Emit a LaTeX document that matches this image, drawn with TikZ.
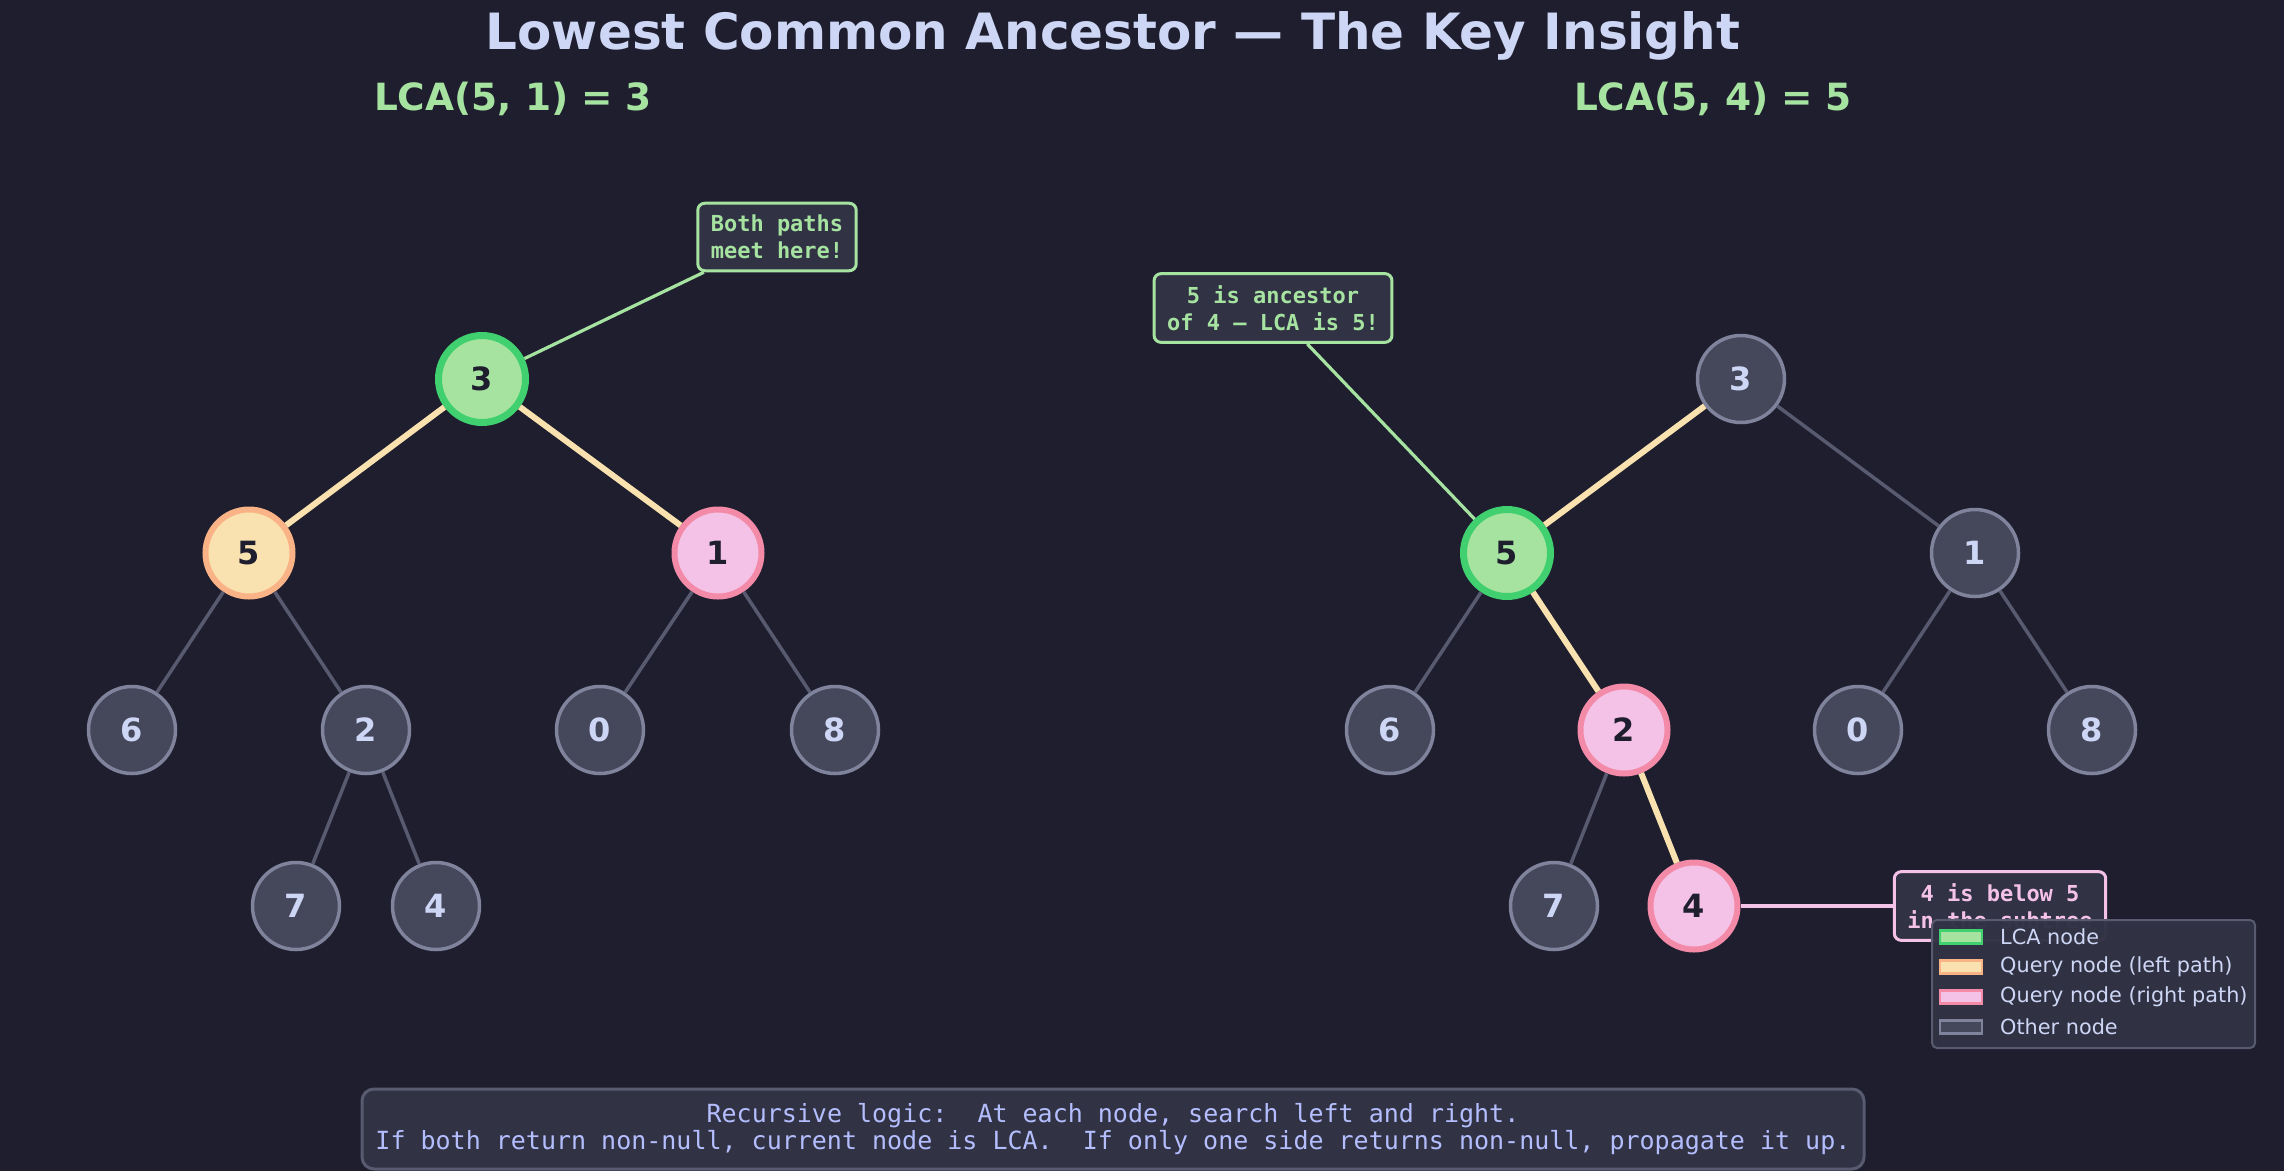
\documentclass[tikz,border=0pt]{standalone}
\usepackage{fontspec}
\setmainfont{DejaVu Sans}
\setmonofont{DejaVu Sans Mono}
\usepackage{tikz}
\usetikzlibrary{positioning}
\definecolor{bgdark}{HTML}{1E1E2E}
\definecolor{inktext}{HTML}{CDD6F4}
\definecolor{logicink}{HTML}{B4BEFE}
\definecolor{lcafill}{HTML}{A6E3A1}
\definecolor{lcaring}{HTML}{40D070}
\definecolor{qlfill}{HTML}{F9E2AF}
\definecolor{qlring}{HTML}{FAB387}
\definecolor{qrfill}{HTML}{F5C2E7}
\definecolor{qrring}{HTML}{F38BA8}
\definecolor{othfill}{HTML}{45475A}
\definecolor{othring}{HTML}{7F849C}
\definecolor{edgegray}{HTML}{585B70}
\definecolor{panelbg}{HTML}{313244}
\definecolor{panelbd}{HTML}{585B70}
\tikzset{
  tnode/.style={circle, minimum size=87pt, inner sep=0pt, font=\fontsize{32}{38}\selectfont\bfseries},
  lcanode/.style={tnode, draw=lcaring, fill=lcafill, line width=7pt, text=bgdark},
  qlnode/.style={tnode, draw=qlring, fill=qlfill, line width=6pt, text=bgdark},
  qrnode/.style={tnode, draw=qrring, fill=qrfill, line width=6pt, text=bgdark},
  onode/.style={tnode, draw=othring, fill=othfill, line width=3.5pt, text=inktext},
  tedge/.style={draw=edgegray, line width=3.5pt},
  pedge/.style={draw=qlfill, line width=6pt},
  note/.style={rounded corners=7pt, fill=panelbg, line width=3pt, align=center,
    inner xsep=13pt, inner ysep=12pt, font=\ttfamily\bfseries\fontsize{22}{26.5}\selectfont},
  notegreen/.style={note, draw=lcafill, text=lcafill},
  notepink/.style={note, draw=qrfill, text=qrfill},
  noteline/.style={line width=3.2pt},
  legbox/.style={draw=panelbd, fill=panelbg, fill opacity=0.97, rounded corners=5pt, line width=2pt,
    minimum width=323pt, minimum height=128pt, inner sep=0pt},
  swatch/.style={minimum width=42pt, minimum height=13pt, inner sep=0pt, line width=2.5pt},
  legtext/.style={anchor=west, inner sep=0pt, text=inktext, font=\fontsize{20.8}{25}\selectfont},
  logicbox/.style={draw=panelbd, fill=panelbg, rounded corners=12pt, line width=3pt,
    minimum width=1502pt, minimum height=80pt, align=center, text=logicink,
    font=\ttfamily\fontsize{25}{27.5}\selectfont}
}
\begin{document}
\begin{tikzpicture}[x=1pt, y=-1pt]
\fill[bgdark] (0,0) rectangle (2284,1171);
\useasboundingbox (0,0) rectangle (2284,1171);
% headings
\node[text=inktext, font=\fontsize{50}{60}\selectfont\bfseries] (title) at (1113,36) {Lowest Common Ancestor — The Key Insight};
\node[text=lcafill, font=\fontsize{37.5}{44}\selectfont\bfseries] (subl) at (513,99) {LCA(5, 1) = 3};
\node[text=lcafill, font=\fontsize{37.5}{44}\selectfont\bfseries] (subr) at (1713,99) {LCA(5, 4) = 5};
% left tree
\node[lcanode] (l3) at (482,379) {3};
\node[qlnode] (l5) at (249,553) {5};
\node[qrnode] (l1) at (718,553) {1};
\node[onode] (l6) at (132,730) {6};
\node[onode] (l2) at (366,730) {2};
\node[onode] (l0) at (600,730) {0};
\node[onode] (l8) at (835,730) {8};
\node[onode] (l7) at (296,906) {7};
\node[onode] (l4) at (436,906) {4};
\draw[pedge] (l3)--(l5); \draw[pedge] (l3)--(l1);
\draw[tedge] (l5)--(l6); \draw[tedge] (l5)--(l2); \draw[tedge] (l1)--(l0); \draw[tedge] (l1)--(l8);
\draw[tedge] (l2)--(l7); \draw[tedge] (l2)--(l4);
\node[notegreen] (meet) at (777,237) {Both paths\\meet here!};
\draw[noteline, lcafill] (l3)--(meet);
% right tree
\node[onode] (r3) at (1741,379) {3};
\node[lcanode] (r5) at (1507,553) {5};
\node[onode] (r1) at (1975,553) {1};
\node[onode] (r6) at (1390,730) {6};
\node[qrnode] (r2) at (1624,730) {2};
\node[onode] (r0) at (1858,730) {0};
\node[onode] (r8) at (2092,730) {8};
\node[onode] (r7) at (1554,906) {7};
\node[qrnode] (r4) at (1694,906) {4};
\draw[pedge] (r3)--(r5); \draw[pedge] (r5)--(r2); \draw[pedge] (r2)--(r4);
\draw[tedge] (r3)--(r1); \draw[tedge] (r5)--(r6); \draw[tedge] (r1)--(r0); \draw[tedge] (r1)--(r8);
\draw[tedge] (r2)--(r7);
\node[notegreen] (anc) at (1273,308) {5 is ancestor\\of 4 — LCA is 5!};
\draw[noteline, lcafill] (r5)--(anc);
\node[notepink] (below) at (2000,906) {4 is below 5\\in the subtree};
\draw[noteline, qrfill] (r4)--(below);
% legend
\node[legbox] (legend) at (2093.5,984) {};
\node[swatch, draw=lcaring, fill=lcafill] (swlca) at (1961,937) {};
\node[swatch, draw=qlring, fill=qlfill] (swql) at (1961,967) {};
\node[swatch, draw=qrring, fill=qrfill] (swqr) at (1961,997) {};
\node[swatch, draw=othring, fill=othfill] (swoth) at (1961,1027) {};
\node[legtext] (tlca) at (2000,937) {LCA node};
\node[legtext] (tql) at (2000,967) {Query node (left path)};
\node[legtext] (tqr) at (2000,997) {Query node (right path)};
\node[legtext] (toth) at (2000,1027) {Other node};
% bottom note
\node[logicbox] (logic) at (1113,1129) {\frenchspacing Recursive logic:\ \ At each node, search left and right.\\
\frenchspacing If both return non-null, current node is LCA.\ \ If only one side returns non-null, propagate it up.};
\end{tikzpicture}
\end{document}
